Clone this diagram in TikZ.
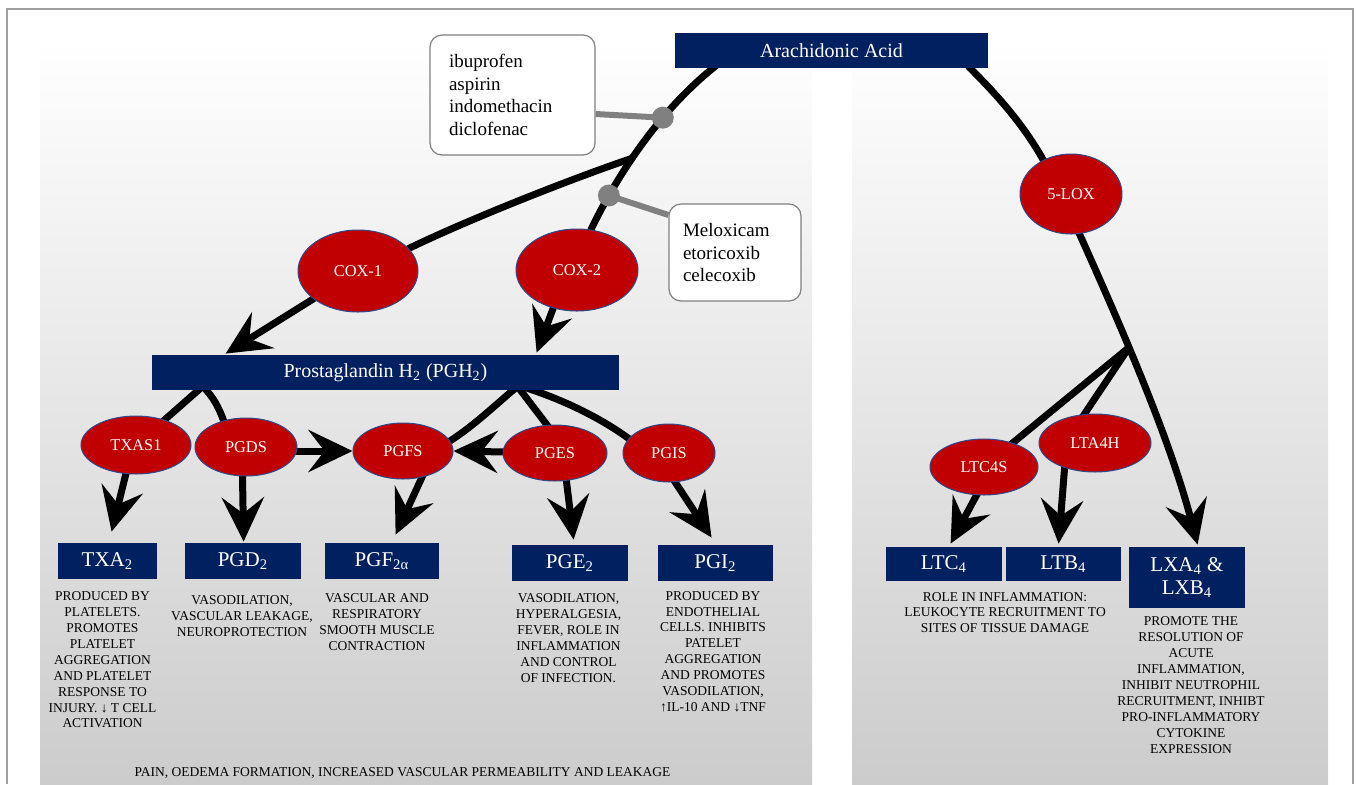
\documentclass[tikz,border=0pt]{standalone}
\usepackage{fontspec}
\setmainfont{Liberation Serif}
\usetikzlibrary{arrows.meta,shapes.geometric,calc}
\definecolor{navy}{HTML}{002060}
\definecolor{dred}{HTML}{C00000}
\definecolor{eborder}{HTML}{2F4A8A}
\definecolor{gline}{HTML}{808080}
\definecolor{framegray}{HTML}{A0A0A0}
\pgfdeclarelayer{bg}
\pgfdeclarelayer{grayl}
\pgfdeclarelayer{lines}
\pgfsetlayers{bg,grayl,lines,main}
\begin{document}
\begin{tikzpicture}[x=0.5pt,y=-0.5pt,
  bluebox/.style={fill=navy,text=white,inner sep=0pt,font=\fontsize{10}{12}\selectfont},
  prod/.style={bluebox,minimum height=18pt,font=\fontsize{10.5}{11.5}\selectfont},
  enz/.style={ellipse,fill=dred,draw=eborder,line width=0.5pt,text=white,inner sep=0pt,font=\fontsize{8.2}{9}\selectfont},
  drugbox/.style={draw=gline,line width=0.6pt,rounded corners=6pt,fill=white,align=left,font=\fontsize{9.5}{11.3}\selectfont},
  desc/.style={align=center,font=\fontsize{6.75}{7.95}\selectfont,inner sep=0pt},
  conn/.style={line width=3.5pt,black,line cap=round},
  arr/.style={line width=3.5pt,black,-{Stealth[length=22pt,width=21pt,inset=8pt]}},
  dotn/.style={circle,fill=gline,inner sep=0pt,minimum size=11pt},
  gconn/.style={gline,line width=3pt}
]
\useasboundingbox (0,0) rectangle (1357,784);

% ---------- nodes ----------
\node[bluebox,minimum width=156.5pt,minimum height=17.5pt] (aa) at (831.5,50.5) {Arachidonic Acid};
\node[bluebox,minimum width=233.5pt,minimum height=17.5pt] (pgh) at (385.5,372.5) {Prostaglandin H\textsubscript{2} (PGH\textsubscript{2})};

\node[drugbox,minimum width=82.5pt,minimum height=60pt,text width=63.5pt,inner xsep=9.5pt] (ibu) at (512.5,95) {ibuprofen\\aspirin\\indomethacin\\diclofenac};
\node[drugbox,minimum width=66pt,minimum height=48.5pt,text width=52pt,inner xsep=7pt] (mel) at (735,252.5) {Meloxicam\\etoricoxib\\celecoxib};

\node[enz,minimum width=60pt,minimum height=41pt] (cox1) at (358,271) {COX-1};
\node[enz,minimum width=61pt,minimum height=41pt] (cox2) at (577,270) {COX-2};
\node[enz,minimum width=51pt,minimum height=40pt] (lox) at (1071,194) {5-LOX};
\node[enz,minimum width=55pt,minimum height=29pt] (txas) at (136,445) {TXAS1};
\node[enz,minimum width=51pt,minimum height=29pt] (pgds) at (246,447) {PGDS};
\node[enz,minimum width=50pt,minimum height=28pt] (pgfs) at (403,451) {PGFS};
\node[enz,minimum width=52pt,minimum height=28pt] (pges) at (555,453) {PGES};
\node[enz,minimum width=46pt,minimum height=29pt] (pgis) at (669,453) {PGIS};
\node[enz,minimum width=54pt,minimum height=28pt] (ltcs) at (984,467) {LTC4S};
\node[enz,minimum width=56pt,minimum height=29pt] (ltah) at (1095,443) {LTA4H};

\node[prod,minimum width=49.5pt] (txa) at (107.5,561) {TXA\textsubscript{2}};
\node[prod,minimum width=58pt] (pgd) at (243,561) {PGD\textsubscript{2}};
\node[prod,minimum width=57pt] (pgf) at (382,561) {PGF\textsubscript{2α}};
\node[prod,minimum width=58pt] (pge) at (570,563) {PGE\textsubscript{2}};
\node[prod,minimum width=57.5pt] (pgi) at (715.5,563) {PGI\textsubscript{2}};
\node[prod,minimum width=58pt,minimum height=17pt] (ltc) at (944,564) {LTC\textsubscript{4}};
\node[prod,minimum width=57.5pt,minimum height=17pt] (ltb) at (1063.5,564) {LTB\textsubscript{4}};
\node[prod,minimum width=58pt,minimum height=30.5pt,align=center] (lx) at (1187,577.5) {LXA\textsubscript{4} \&\\LXB\textsubscript{4}};

\node[desc] (dtxa) at (102.5,660) {PRODUCED BY\\PLATELETS.\\PROMOTES\\PLATELET\\AGGREGATION\\AND PLATELET\\RESPONSE TO\\INJURY. ↓ T CELL\\ACTIVATION};
\node[desc] (dpgd) at (242,616) {VASODILATION,\\VASCULAR LEAKAGE,\\NEUROPROTECTION};
\node[desc] (dpgf) at (377,622) {VASCULAR AND\\RESPIRATORY\\SMOOTH MUSCLE\\CONTRACTION};
\node[desc] (dpge) at (568.5,638) {VASODILATION,\\HYPERALGESIA,\\FEVER, ROLE IN\\INFLAMMATION\\AND CONTROL\\OF INFECTION.};
\node[desc] (dpgi) at (713,651.5) {PRODUCED BY\\ENDOTHELIAL\\CELLS. INHIBITS\\PATELET\\AGGREGATION\\AND PROMOTES\\VASODILATION,\\↑IL-10 AND ↓TNF};
\node[desc] (dlt) at (1005,612.5) {ROLE IN INFLAMMATION:\\LEUKOCYTE RECRUITMENT TO\\SITES OF TISSUE DAMAGE};
\node[desc] (dlx) at (1191,685) {PROMOTE THE\\RESOLUTION OF\\ACUTE\\INFLAMMATION,\\INHIBIT NEUTROPHIL\\RECRUITMENT, INHIBT\\PRO-INFLAMMATORY\\CYTOKINE\\EXPRESSION};
\node[desc] (dpain) at (402.5,773) {PAIN, OEDEMA FORMATION, INCREASED VASCULAR PERMEABILITY AND LEAKAGE};

% ---------- background ----------
\begin{pgfonlayer}{bg}
\shade[top color=white,bottom color=gray!40] (40,40) rectangle (812,784);
\shade[top color=white,bottom color=gray!40] (852,40) rectangle (1328,784);
\draw[framegray,line width=1pt] (7,784) -- (7,9) -- (1353,9) -- (1353,784);
\end{pgfonlayer}

% ---------- connectors ----------
\begin{pgfonlayer}{lines}
\draw[conn] ($(aa.south west)+(43,-4)$) .. controls (662,108) and (620,170) .. (cox2.71)
   node[dotn,pos=0.36] (d1) {} coordinate[pos=0.6] (f1) node[dotn,pos=0.81] (d2) {};
\draw[conn,shorten >=-4pt] (f1) .. controls (568,180) and (462,222) .. (cox1.24);
\draw[arr] (cox1.center) -- ($(pgh.north west)+(74,-1)$);
\draw[arr] ($(cox2.center)+(-17,20)$) -- ($(pgh.north west)+(385,-2)$);

\coordinate (f2) at ($(pgh.south west)+(51,-4)$);
\draw[conn] (f2) -- (txas.center);
\draw[conn,shorten >=-4pt] (f2) .. controls (212,395) and (220,408) .. (pgds.130);
\coordinate (f3) at ($(pgh.south west)+(366,-4)$);
\draw[conn,shorten >=-4pt] (f3) .. controls (495,405) and (472,428) .. (pgfs.12);
\draw[conn,shorten >=-4pt] (f3) -- (pges.106);
\draw[conn,shorten >=-4pt] ($(f3)+(4,0)$) .. controls (565,400) and (605,420) .. (pgis.160);

\draw[arr] ($(txas.center)+(-3,0)$) -- ($(txa.north west)+(54,-11)$);
\draw[arr] ($(pgds.center)+(-4,0)$) -- ($(pgd.north west)+(59,-1)$);
\draw[arr] ($(pgfs.center)+(31,0)$) -- ($(pgf.north west)+(71,-8)$);
\draw[arr] ($(pges.center)+(8,0)$) -- ($(pge.north west)+(62,-5)$);
\draw[arr] ($(pgis.center)+(-13,0)$) -- ($(pgi.north west)+(54,-7)$);
\draw[arr] ($(pgds.center)+(0,4)$) -- (pgfs.west);
\draw[arr] (pges.center) -- (pgfs.east);

\draw[conn,shorten >=-4pt] ($(aa.south east)+(-20,-2)$) .. controls (995,93) and (1025,125) .. (lox.129);
\draw[arr,shorten <=-4pt] (lox.282) .. controls (1125,335) and (1170,440) .. ($(lx.north west)+(69,-2)$) coordinate[pos=0.37] (f4);
\draw[conn,shorten >=-4pt] (f4) -- (ltcs.40);
\draw[conn,shorten >=-4pt] (f4) -- (ltah.110);
\draw[arr] ($(ltcs.center)+(6,3)$) -- ($(ltc.north west)+(65,-3)$);
\draw[arr] ($(ltah.center)+(-29,7)$) -- ($(ltb.north west)+(53,-3)$);
\end{pgfonlayer}

\begin{pgfonlayer}{grayl}
\draw[gconn] ($(ibu.east)+(0,19)$) -- (d1.center);
\draw[gconn] (d2.center) -- ($(mel.west)+(0,-37.5)$);
\end{pgfonlayer}
\end{tikzpicture}
\end{document}
